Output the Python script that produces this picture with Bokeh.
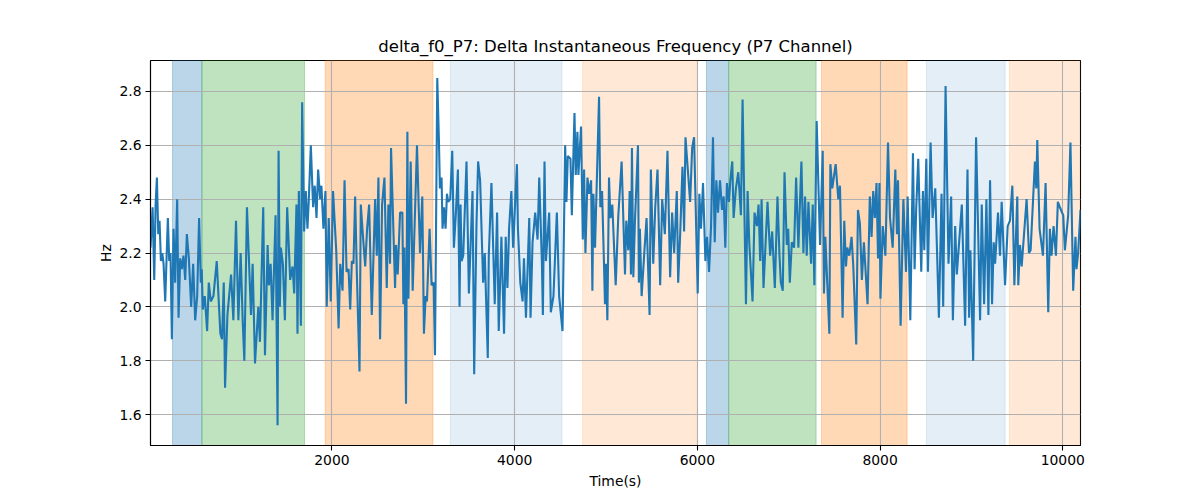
from bokeh.plotting import figure
from bokeh.embed import file_html
from bokeh.resources import INLINE
from bokeh.models import BoxAnnotation, FixedTicker, PrintfTickFormatter

# данные (время, с / частота, Гц)
t_part1 = [14, 22, 37, 55, 70, 84, 99, 113, 128, 143,
           157, 175, 204, 219, 233, 248, 266, 284, 306, 321,
           339, 357, 375, 394, 412, 434, 459, 481, 503, 525,
           546, 565, 575, 586, 608, 634, 652, 674, 703, 739,
           779, 797, 816, 830, 856, 896, 921, 950, 976, 1001,
           1023, 1041, 1070, 1114, 1132, 1158, 1194, 1212, 1248, 1267,
           1296, 1310, 1329, 1350, 1383, 1405, 1416, 1430, 1441, 1463,
           1485, 1510, 1543, 1569, 1587, 1612, 1623, 1638, 1660, 1674,
           1696, 1714, 1732, 1747, 1769, 1794, 1812, 1831, 1849, 1871,
           1885, 1907, 1929, 1943, 1965, 1987, 2012]
f_part1 = [2.22, 2.27, 2.37, 2.10, 2.38, 2.48, 2.27, 2.32, 2.17, 2.20,
           2.16, 2.02, 2.33, 2.17, 2.20, 1.88, 2.29, 2.09, 2.40, 1.96,
           2.18, 2.14, 2.19, 2.10, 2.27, 2.18, 2.00, 2.16, 1.95, 2.04,
           2.33, 2.09, 2.14, 1.99, 2.04, 1.91, 2.09, 2.02, 2.04, 2.17,
           1.90, 1.88, 2.09, 1.70, 1.97, 2.12, 1.95, 2.32, 1.95, 2.20,
           1.95, 1.80, 2.37, 1.97, 2.16, 1.79, 2.00, 1.87, 2.37, 1.82,
           2.23, 2.08, 2.16, 1.95, 2.34, 1.56, 2.58, 2.00, 2.22, 2.16,
           1.95, 2.37, 2.10, 2.15, 2.05, 2.38, 1.90, 2.43, 1.93, 2.76,
           2.28, 2.43, 2.29, 2.40, 2.60, 2.37, 2.45, 2.33, 2.51, 2.40,
           2.45, 2.29, 2.43, 2.00, 2.33, 2.02, 2.43]

t_part2 = [2047, 2073, 2091, 2116, 2138, 2160, 2182, 2200, 2218, 2236,
           2254, 2273, 2302, 2316, 2338, 2364, 2385, 2407, 2436, 2473,
           2491, 2509, 2527, 2549, 2575, 2600, 2618, 2636, 2647, 2691,
           2702, 2720, 2746, 2771, 2782, 2793, 2811, 2826, 2837, 2862,
           2884, 2931, 2964, 2989, 3007, 3026, 3040, 3069, 3091, 3113,
           3128, 3153, 3171, 3182, 3200, 3211, 3226, 3244, 3259, 3273,
           3295, 3317, 3335, 3357, 3379, 3397, 3408, 3419, 3437, 3473,
           3499, 3539, 3557, 3582, 3600, 3622, 3655, 3673, 3706, 3717,
           3746, 3782, 3808, 3826, 3855, 3884, 3902, 3921, 3939, 3964,
           3983]
f_part2 = [2.21, 1.92, 2.16, 2.06, 2.47, 2.13, 2.14, 1.99, 2.17, 2.16,
           2.41, 2.12, 1.76, 2.38, 2.27, 2.15, 2.29, 2.38, 1.97, 2.40,
           2.19, 2.48, 1.88, 2.38, 2.48, 2.07, 2.38, 2.16, 2.59, 2.07,
           2.23, 2.12, 2.35, 2.35, 2.01, 2.22, 1.64, 2.65, 2.03, 2.54,
           2.06, 2.60, 2.20, 2.41, 1.90, 2.04, 2.02, 2.29, 2.08, 2.09,
           1.82, 2.85, 2.62, 2.44, 2.48, 2.29, 2.37, 2.29, 2.42, 2.39,
           2.40, 2.58, 2.22, 2.35, 2.51, 2.00, 2.38, 2.17, 2.19, 2.54,
           2.05, 2.43, 1.75, 2.30, 2.54, 2.47, 2.09, 2.20, 1.81, 2.19,
           2.46, 2.01, 2.35, 1.91, 2.26, 1.90, 2.26, 2.07, 2.29, 2.43,
           2.22]

t_part3 = [4025, 4036, 4062, 4087, 4102, 4124, 4160, 4174, 4196, 4225,
           4251, 4269, 4298, 4309, 4327, 4342, 4364, 4378, 4396, 4425,
           4462, 4487, 4524, 4553, 4567, 4582, 4611, 4626, 4655, 4669,
           4687, 4698, 4727, 4746, 4760, 4775, 4797, 4815, 4837, 4851,
           4862, 4880, 4924, 4938, 4957, 4978, 4989, 5000, 5015, 5033,
           5048, 5069, 5106, 5135, 5171, 5208, 5222, 5244, 5259, 5273,
           5284, 5299, 5317, 5350, 5360, 5371, 5390, 5419, 5444, 5477,
           5491, 5517, 5539, 5564, 5593, 5615, 5644, 5673, 5702, 5724,
           5746, 5775, 5790, 5812, 5837, 5855, 5870, 5921, 5943, 5964]
f_part3 = [2.53, 2.29, 2.09, 2.02, 2.18, 1.96, 2.33, 1.96, 2.24, 2.35,
           2.25, 2.48, 2.17, 1.97, 2.54, 2.17, 2.28, 2.35, 1.98, 2.04,
           2.35, 2.04, 1.91, 2.60, 2.39, 2.56, 2.55, 2.34, 2.72, 2.49,
           2.65, 2.49, 2.67, 2.25, 2.51, 2.20, 2.48, 2.42, 2.47, 2.06,
           2.42, 2.22, 2.78, 2.37, 2.43, 2.16, 2.01, 2.16, 1.95, 2.48,
           2.33, 2.38, 2.08, 2.34, 2.54, 2.12, 2.32, 2.21, 2.43, 2.12,
           2.59, 2.11, 2.32, 2.60, 2.09, 2.29, 2.04, 2.20, 2.33, 1.97,
           2.51, 2.16, 2.37, 2.51, 2.08, 2.40, 2.27, 2.58, 2.11, 2.35,
           2.20, 2.43, 2.09, 2.27, 2.52, 2.28, 2.63, 2.39, 2.59, 2.63]

t_part4 = [6004, 6022, 6040, 6062, 6088, 6106, 6128, 6150, 6171, 6190,
           6208, 6226, 6248, 6270, 6288, 6306, 6324, 6346, 6361, 6382,
           6397, 6422, 6448, 6477, 6495, 6532, 6550, 6568, 6604, 6626,
           6652, 6670, 6688, 6703, 6724, 6768, 6797, 6819, 6848, 6877,
           6899, 6914, 6935, 6954, 6979, 6994, 7012, 7034, 7059, 7081,
           7106, 7139, 7161, 7179, 7197, 7216, 7245, 7263, 7281, 7306,
           7343, 7372, 7386, 7401, 7445, 7456, 7477, 7514, 7543, 7561,
           7590, 7608, 7627, 7641, 7663, 7688, 7707, 7739, 7758, 7779,
           7801, 7823, 7863, 7888, 7907, 7925, 7943, 7961]
f_part4 = [2.05, 2.42, 2.29, 2.46, 2.17, 2.26, 2.13, 2.30, 2.63, 2.24,
           2.47, 2.35, 2.47, 2.36, 2.41, 2.22, 2.46, 2.39, 2.47, 2.54,
           2.33, 2.44, 2.50, 2.34, 2.77, 2.01, 2.43, 2.24, 2.02, 2.35,
           2.30, 2.38, 2.17, 2.40, 2.07, 2.39, 2.19, 2.28, 2.07, 2.41,
           2.19, 2.09, 2.06, 2.50, 2.23, 2.29, 2.09, 2.24, 2.22, 2.48,
           2.22, 2.54, 2.20, 2.41, 2.19, 2.39, 2.16, 2.38, 2.08, 2.69,
           2.23, 2.58, 2.05, 2.26, 1.90, 2.53, 2.44, 2.53, 2.40, 2.45,
           1.96, 2.32, 2.15, 2.22, 2.19, 2.26, 2.15, 1.86, 2.36, 2.31,
           2.10, 2.24, 2.01, 2.41, 2.26, 2.43, 2.33, 2.46]

t_part5 = [7978, 7993, 8004, 8029, 8058, 8087, 8109, 8138, 8167, 8185,
           8196, 8225, 8255, 8284, 8302, 8331, 8360, 8378, 8396, 8418,
           8451, 8469, 8484, 8506, 8524, 8553, 8575, 8604, 8644, 8673,
           8691, 8717, 8749, 8778, 8797, 8822, 8840, 8859, 8895, 8931,
           8957, 8975, 8989, 9019, 9051, 9095, 9113, 9139, 9164, 9186,
           9204, 9226, 9244, 9259, 9291, 9313, 9331, 9368, 9397, 9422,
           9448, 9470, 9502, 9513, 9532, 9550, 9604, 9630, 9648, 9695,
           9710, 9721, 9746, 9783, 9812, 9841, 9859, 9877, 9899, 9925,
           9946, 9968, 10005, 10023, 10059, 10084, 10114, 10139, 10150, 10168,
           10194]
f_part5 = [2.18, 2.46, 2.03, 2.30, 2.19, 2.61, 2.33, 2.22, 2.51, 2.27,
           2.47, 1.93, 2.40, 2.13, 2.41, 1.95, 2.57, 2.14, 2.37, 2.55,
           2.13, 2.43, 2.21, 2.55, 2.13, 2.61, 2.33, 2.44, 1.96, 2.42,
           2.00, 2.82, 2.16, 2.41, 1.95, 2.30, 2.12, 2.21, 2.38, 1.93,
           2.51, 1.96, 2.21, 1.80, 2.63, 1.95, 2.38, 2.01, 2.40, 1.97,
           2.47, 2.01, 2.24, 2.16, 2.35, 2.19, 2.39, 2.08, 2.30, 2.32,
           2.45, 2.08, 2.41, 2.08, 2.23, 2.15, 2.40, 2.20, 2.21, 2.54,
           2.44, 2.62, 2.29, 2.19, 2.46, 1.98, 2.29, 2.19, 2.30, 2.19,
           2.39, 2.37, 2.34, 2.21, 2.34, 2.61, 2.06, 2.26, 2.14, 2.20,
           2.36]

# интервалы-фазы (начало, конец, тип)
span_start = [255, 577, 1927, 3296, 4744, 6099, 6343, 7359, 8507, 9416]
span_end = [577, 1700, 3106, 4519, 5989, 6343, 7300, 8296, 9369, 10260]
span_phase = ["a", "b", "c", "d", "e", "a", "b", "c", "d", "e"]

x_ticks = [2000, 4000, 6000, 8000, 10000]
y_ticks = [1.6, 1.8, 2.0, 2.2, 2.4, 2.6, 2.8]

time_s = t_part1 + t_part2 + t_part3 + t_part4 + t_part5
delta_f0 = f_part1 + f_part2 + f_part3 + f_part4 + f_part5

# стиль фаз
phase_style = {
    "a": ("#1f77b4", 0.3),
    "b": ("#2ca02c", 0.3),
    "c": ("#ff7f0e", 0.3),
    "d": ("#1f77b4", 0.12),
    "e": ("#ff7f0e", 0.17),
}
font = "DejaVu Sans"

p = figure(width=1200, height=500, output_backend="svg", toolbar_location=None,
           x_range=(14, 10194), y_range=(1.485, 2.915),
           min_border_left=150, min_border_right=120, min_border_top=60, min_border_bottom=55,
           title="delta_f0_P7: Delta Instantaneous Frequency (P7 Channel)")

for s, e, ph in zip(span_start, span_end, span_phase):
    c, a = phase_style[ph]
    p.add_layout(BoxAnnotation(left=s, right=e, fill_color=c, fill_alpha=a,
                               line_color=c, line_alpha=a, line_width=1, level="image"))

p.line(time_s, delta_f0, line_color="#1f77b4", line_width=2.1)

# оформление в стиле matplotlib
p.title.align = "center"
p.title.text_font = font
p.title.text_font_size = "16.5px"
p.title.text_font_style = "normal"
p.title.text_color = "black"

p.xaxis.ticker = FixedTicker(ticks=x_ticks)
p.yaxis.ticker = FixedTicker(ticks=y_ticks)
p.yaxis.formatter = PrintfTickFormatter(format="%.1f")
p.xaxis.axis_label = "Time(s)"
p.yaxis.axis_label = "Hz"
for ax in p.axis:
    ax.axis_label_text_font = font
    ax.axis_label_text_font_size = "13.9px"
    ax.axis_label_text_font_style = "normal"
    ax.axis_label_text_color = "black"
    ax.major_label_text_font = font
    ax.major_label_text_font_size = "13.9px"
    ax.major_label_text_color = "black"
    ax.major_tick_out = 5
    ax.major_tick_in = 0
    ax.minor_tick_out = 0
    ax.minor_tick_in = 0
    ax.axis_line_color = "black"
    ax.axis_line_width = 1.1
    ax.major_tick_line_color = "black"
    ax.major_tick_line_width = 1.1
    ax.major_label_standoff = 4
p.xaxis.axis_label_standoff = 5
p.yaxis.axis_label_standoff = 2

p.grid.grid_line_color = "#b0b0b0"
p.grid.grid_line_width = 1.1
p.outline_line_color = "black"
p.outline_line_width = 1.1
p.outline_line_alpha = 1

open("out.html", "w").write(file_html(p, INLINE))
